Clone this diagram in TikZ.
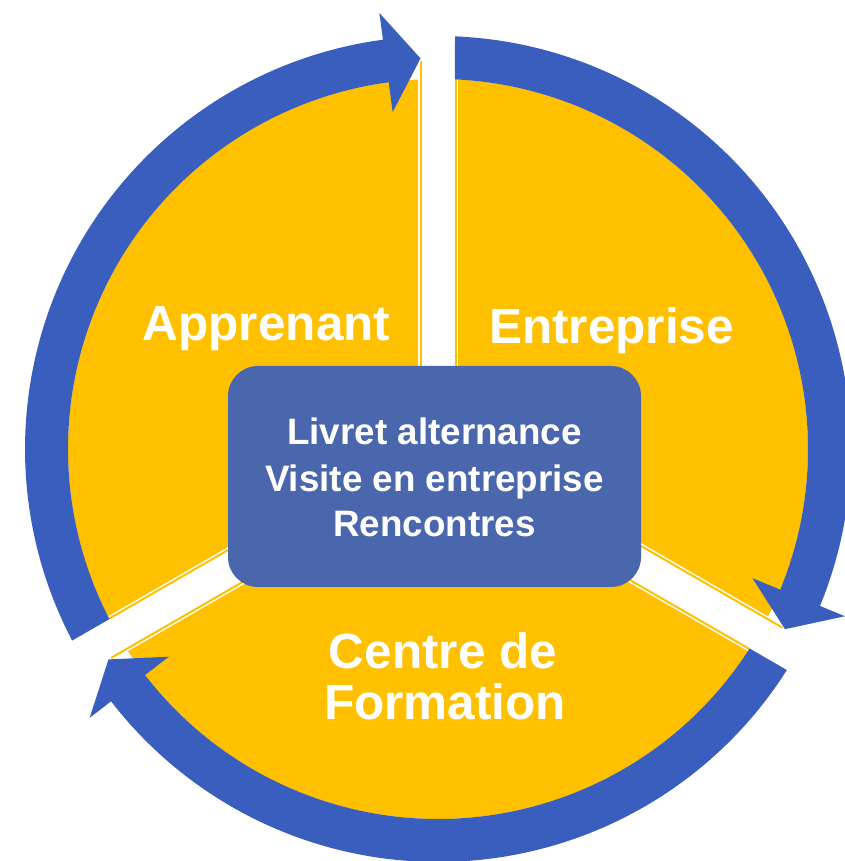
\documentclass[tikz,border=0pt]{standalone}
\usepackage{fontspec}
\setmainfont{Liberation Sans}
\definecolor{gold}{HTML}{FFC000}
\definecolor{ringblue}{HTML}{3A5EBE}
\definecolor{boxblue}{HTML}{4A66AC}
\begin{document}
\begin{tikzpicture}[x=1pt,y=1pt,
  ring/.style={fill=ringblue},
  gapband/.style={white, line width=40pt},
  gapline/.style={gold, line width=2pt},
  lbl/.style={text=white, inner sep=0pt, anchor=base, font=\bfseries\fontsize{49.5}{56}\selectfont},
  boxtxt/.style={text=white, inner sep=0pt, anchor=base, font=\bfseries\fontsize{36.8}{44}\selectfont}]
\useasboundingbox (0,0) rectangle (844,861);
\begin{scope}[shift={(438,412)}]
  \fill[gold] (0,0) circle (370);
  \foreach \a in {90,-30,210}{
    \begin{scope}[rotate=\a]
      \draw[gapband] (0,0) -- (380,0);
      \draw[gapline] (0,17.5) -- (387.6,17.5);
      \draw[gapline] (0,-17.5) -- (369.6,-17.5);
    \end{scope}
  }
  % arrow 1 (left)
  \fill[ring] (207.37:370) -- (207.64:413) arc[start angle=207.64, end angle=97.66, radius=413]
    -- (97.66:440) -- (92.56:391) -- (97.66:340) -- (97.66:370)
    arc[start angle=97.66, end angle=207.37, radius=370] -- cycle;
  % arrow 2 (right)
  \fill[ring] (87.37:370) -- (87.64:413) arc[start angle=87.64, end angle=-22.34, radius=413]
    -- (-22.34:440) -- (-27.44:391) -- (-22.34:340) -- (-22.34:370)
    arc[start angle=-22.34, end angle=87.37, radius=370] -- cycle;
  % arrow 3 (bottom)
  \fill[ring] (-32.63:370) -- (-32.36:413) arc[start angle=-32.36, end angle=-142.34, radius=413]
    -- (-142.34:440) -- (-147.44:391) -- (-142.34:340) -- (-142.34:370)
    arc[start angle=-142.34, end angle=-32.63, radius=370] -- cycle;
\end{scope}
\node[fill=boxblue, rounded corners=30pt, minimum width=413pt, minimum height=221pt, inner sep=0pt] (box) at (434.5,384.5) {};
\node[boxtxt] (l1) at (434.5,416) {Livret alternance};
\node[boxtxt] (l2) at (434.5,369.5) {Visite en entreprise};
\node[boxtxt] (l3) at (434.5,324) {Rencontres};
\node[lbl] (app) at (266.5,520) {Apprenant};
\node[lbl] (ent) at (611.5,517) {Entreprise};
\node[lbl] (cdf1) at (443,192) {Centre de};
\node[lbl] (cdf2) at (445,141) {Formation};
\end{tikzpicture}
\end{document}
